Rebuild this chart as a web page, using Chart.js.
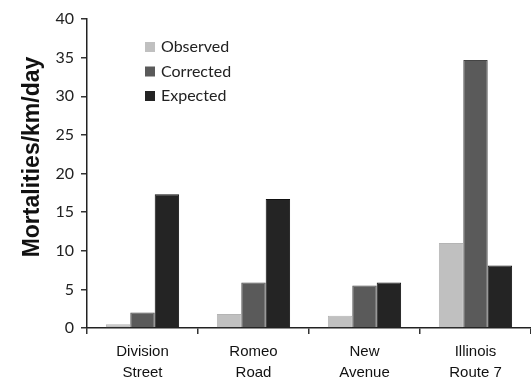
<!DOCTYPE html>
<html>
<head>
<meta charset="utf-8">
<script src="https://cdn.jsdelivr.net/npm/chart.js@4"></script>
<style>
  html, body { margin: 0; padding: 0; background: #fff; }
  #wrap { width: 531px; height: 382px; }
</style>
</head>
<body>
<div id="wrap"><canvas id="chart" width="531" height="382"></canvas></div>
<script>
const roads = [["Division", "Street"], ["Romeo", "Road"], ["New", "Avenue"], ["Illinois", "Route 7"]];
const observed = [0.5, 1.8, 1.6, 11.0];
const corrected = [2.0, 5.9, 5.5, 34.7];
const expected = [17.3, 16.7, 5.9, 8.1];
const yTicks = [0, 5, 10, 15, 20, 25, 30, 35, 40];
const yTitle = 'Mortalities/km/day';

// legend inside the plot (upper left) and the y title, which sits
// a bit above the middle of the axis in the original
const extras = {
  id: 'extras',
  afterDraw(chart) {
    const ctx = chart.ctx;
    ctx.save();
    ctx.font = '16px Lato';
    ctx.textBaseline = 'middle';
    chart.data.datasets.forEach((ds, i) => {
      const y = 47 + i * 24.5;
      ctx.fillStyle = ds.backgroundColor;
      ctx.fillRect(145, y - 5, 10, 10);
      ctx.fillStyle = '#222';
      ctx.fillText(ds.label, 161, y);
    });

    ctx.translate(33, 157);
    ctx.rotate(-Math.PI / 2);
    ctx.font = 'bold 23px "Liberation Sans"';
    ctx.textAlign = 'center';
    ctx.fillStyle = '#111';
    ctx.fillText(yTitle, 0, 0);
    ctx.restore();
  }
};

const ctx = document.getElementById('chart').getContext('2d');
new Chart(ctx, {
  type: 'bar',
  data: {
    labels: roads,
    datasets: [
      { label: 'Observed', data: observed, backgroundColor: '#c0c0c0', borderColor: '#b4b4b4', borderWidth: 1 },
      { label: 'Corrected', data: corrected, backgroundColor: '#5a5a5a', borderColor: '#444', borderWidth: 1 },
      { label: 'Expected', data: expected, backgroundColor: '#242424', borderColor: '#111', borderWidth: 1 }
    ]
  },
  options: {
    responsive: false,
    animation: false,
    layout: { padding: { top: 19, right: 0, bottom: 0, left: 0 } },
    datasets: {
      bar: { categoryPercentage: 0.66, barPercentage: 1.0 }
    },
    plugins: {
      legend: { display: false },
      tooltip: { enabled: false }
    },
    scales: {
      x: {
        grid: { offset: true, drawOnChartArea: false, tickLength: 6, color: '#333', lineWidth: 1.5 },
        border: { color: '#222', width: 1.5 },
        ticks: { color: '#111', font: { family: 'Liberation Sans', size: 15, lineHeight: 1.35 }, padding: 8, maxRotation: 0 },
        afterFit(scale) { scale.height = 54; }
      },
      y: {
        min: 0,
        max: 40,
        afterBuildTicks(scale) { scale.ticks = yTicks.map(v => ({ value: v })); },
        grid: { drawOnChartArea: false, tickLength: 6, color: '#333', lineWidth: 1.5 },
        border: { color: '#222', width: 1.5 },
        ticks: { color: '#222', font: { family: 'Lato', size: 16 }, padding: 7 },
        afterFit(scale) { scale.width = 87; }
      }
    }
  },
  plugins: [extras]
});
</script>
</body>
</html>
